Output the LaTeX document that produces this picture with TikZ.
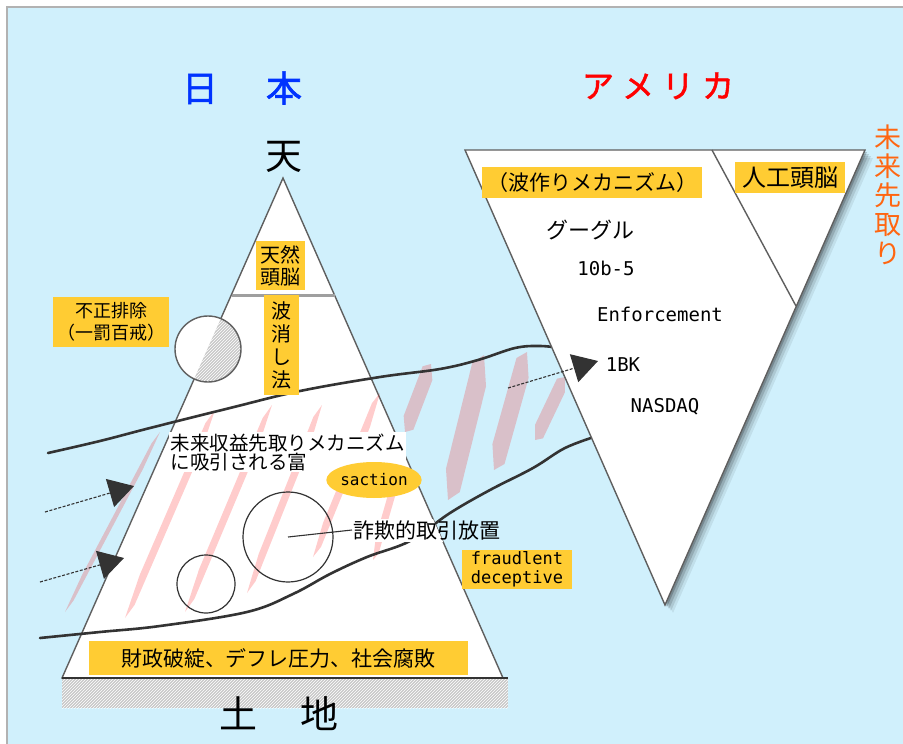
\documentclass[tikz,border=0pt]{standalone}
\usepackage{fontspec}
\setmainfont{Noto Sans CJK JP}
\newfontfamily\monofam{DejaVu Sans Mono}
\newfontfamily\jpbold[FakeBold=1.6]{Noto Sans CJK JP}
\usetikzlibrary{arrows.meta,patterns,shapes.geometric,calc}
\definecolor{bgblue}{RGB}{208,240,252}
\definecolor{boxy}{RGB}{255,204,51}
\definecolor{jpblue}{RGB}{0,51,255}
\definecolor{usred}{RGB}{255,0,0}
\definecolor{orng}{RGB}{255,102,17}
\definecolor{ink}{RGB}{51,51,51}
\definecolor{edgec}{RGB}{95,95,95}
\definecolor{hatchgray}{RGB}{200,200,200}
\newcommand\fsz[2]{\fontsize{#1}{#2}\selectfont}
\begin{document}
\begin{tikzpicture}[x=1pt,y=-1pt,
  ybox/.style={fill=boxy,inner sep=0pt,align=center,text=black},
  curveline/.style={draw=ink,line width=2.6pt,line cap=round,line join=round},
  stripefill/.style={fill=red,fill opacity=0.2},
  darrow/.style={draw=ink,line width=1.1pt,dash pattern=on 3pt off 1.6pt,-{Triangle[length=25pt,width=29pt,fill=ink]}},
  tri/.style={draw=edgec,line width=1.4pt,fill=white,line join=miter},
  hatchfill/.style={pattern=north east lines,pattern color=white}]
\useasboundingbox (0,0) rectangle (903,744);
% background
\fill[white] (0,0) rectangle (903,744);
\fill[bgblue] (7,7) rectangle (903,744);
\draw[gray!60,line width=1.5pt] (7,744) -- (7,7) -- (903,7);
% ground
\fill[hatchgray] (62,678) rectangle (508,708);
\fill[hatchfill] (62,678) rectangle (508,708);
% Japan triangle
\coordinate (jA) at (283,178);
\coordinate (jL) at (62,678);
\coordinate (jR) at (503,678);
\filldraw[tri] (jA) -- (jL) -- (jR) -- cycle;
\draw[ink,line width=2pt] (62,678) -- (508,678);
\draw[gray!75,line width=3pt] (231.5,295) -- (334.5,295);
% stripes (tapered)
\foreach \xa/\ya/\xb/\yb/\w in {65/612/160/432/2.2, 125/618/215/410/3.6, 185/612/272/405/3.6,
   247/593/322/405/3.6, 313/557/380/393/3.6, 373/560/404/452/3.6, 405/432/431/364/7,
   448/500/484/355/9.5, 494/470/527/352/8.5, 535/440/565/377/6.5}
  \fill[stripefill] (\xa,\ya)
     -- ($(\xa,\ya)!0.2!(\xb,\yb)!\w pt!90:(\xb,\yb)$)
     -- ($(\xa,\ya)!0.93!(\xb,\yb)!\w pt!90:(\xb,\yb)$)
     -- (\xb,\yb)
     -- ($(\xa,\ya)!0.8!(\xb,\yb)!\w pt!-90:(\xb,\yb)$)
     -- ($(\xa,\ya)!0.07!(\xb,\yb)!\w pt!-90:(\xb,\yb)$) -- cycle;
% curves
\draw[curveline] plot[smooth,tension=0.6] coordinates {(48,453) (100,441) (150,428) (230,408) (300,391) (380,377) (440,369) (478,360) (515,348) (540,346) (560,348)};
\draw[curveline] plot[smooth,tension=0.6] coordinates {(40,638) (100,632) (160,626) (247,612) (293,594) (330,574) (367,557) (410,541) (450,513) (490,490) (533,468) (565,448) (597,436)};
% white ground behind the fraud text, inside the triangle only
\begin{scope}
  \clip (jA) -- (jL) -- (jR) -- cycle;
  \fill[white] (351,519) rectangle (445,542);
\end{scope}
% hatched circle
\fill[white] (208,349) circle (33);
\begin{scope}
  \clip (jA) -- (jL) -- (jR) -- cycle;
  \fill[hatchgray] (208,349) circle (33);
  \fill[hatchfill] (208,349) circle (33);
\end{scope}
\draw[edgec,line width=1.4pt] (208,349) circle (33);
% America triangle
\coordinate (uL) at (465,150);
\coordinate (uR) at (865,150);
\coordinate (uB) at (665,605);
\foreach \s/\o in {8/0.07,6/0.1,4/0.14,2/0.2}
  \fill[black,opacity=\o,shift={(\s,\s)}] (465,150) -- (865,150) -- (665,605) -- cycle;
\filldraw[tri] (uL) -- (uR) -- (uB) -- cycle;
\draw[edgec,line width=1.4pt] (712,150) -- (796,306);
% circles
\node[circle,draw=ink,line width=1.2pt,minimum size=90pt,inner sep=0pt] (bigc) at (288,537) {};
\node[circle,draw=ink,line width=1.2pt,minimum size=58pt,inner sep=0pt] (smallc) at (206,584) {};
% labels Japan
\node[ybox,minimum width=49pt,minimum height=49pt,font=\fsz{20}{22}] (tennen) at (280.5,265.5) {天然\\頭脳};
\node[ybox,minimum width=35pt,minimum height=100pt,font=\fsz{20}{23}] (hasho) at (281.5,345) {波\\消\\し\\法};
\node[ybox,minimum width=116pt,minimum height=50pt,font=\fsz{18}{22}] (fusei) at (111,322) {不正排除\\（一罰百戒）};
\node[anchor=north west,fill=white,inner sep=1.5pt,align=left,font=\fsz{19.5}{19}] (mirai) at (169,432) {未来収益先取りメカニズム\\に吸引される富};
\node[ellipse,fill=boxy,minimum width=92pt,minimum height=36pt,inner sep=0pt,font=\monofam\fsz{16}{16}] (saction) at (374,480) {saction};
\node[anchor=west,inner sep=1pt,font=\fsz{21}{21}] (sagi) at (352,530) {詐欺的取引放置};
\draw[ink,line width=1.1pt] (bigc.center) -- (sagi.west);
\node[ybox,minimum width=110pt,minimum height=39pt,font=\monofam\fsz{17}{19}] (fraud) at (517,569.5) {fraudlent\\deceptive};
\node[ybox,minimum width=379pt,minimum height=34pt,font=\fsz{21}{21}] (zaisei) at (278.5,658) {財政破綻、デフレ圧力、社会腐敗};
\node[font=\fsz{37}{37}] (ten) at (284,157) {天};
\node[font=\fsz{38}{38}] (tochi) at (279,714) {土\hspace{44pt}地};
\node[font=\jpbold\fsz{36}{36},text=jpblue] (nihon) at (242,88) {日\hspace{48pt}本};
% labels America
\node[font=\jpbold\fsz{32}{32},text=usred] (america) at (658,86) {ア\hspace{8pt}メ\hspace{8pt}リ\hspace{8pt}カ};
\node[font=\fsz{27}{29},text=orng,align=center] (miraisaki) at (888,194.5) {未\\来\\先\\取\\り};
\node[ybox,minimum width=220pt,minimum height=31pt,font=\fsz{21}{21}] (nami) at (592,182.5) {（波作りメカニズム）};
\node[ybox,minimum width=110pt,minimum height=31pt,font=\fsz{24}{24}] (jinko) at (790,177.5) {人工頭脳};
\node[font=\fsz{22}{22}] (google) at (590,230) {グーグル};
\node[font=\monofam\fsz{19}{19}] (rule) at (606,268) {10b-5};
\node[font=\monofam\fsz{19}{19}] (enf) at (660,314) {Enforcement};
\node[font=\monofam\fsz{19}{19}] (bk) at (623,365) {1BK};
\node[font=\monofam\fsz{19}{19}] (nasdaq) at (665,407) {NASDAQ};
% arrows
\coordinate (a1s) at (45,512);
\coordinate (a1e) at (134,486);
\coordinate (a2s) at (40,582);
\coordinate (a2e) at (124,558);
\coordinate (a3s) at (508,388);
\coordinate (a3e) at (598,361);
\draw[darrow] (a1s) -- (a1e);
\draw[darrow] (a2s) -- (a2e);
\draw[darrow] (a3s) -- (a3e);
\end{tikzpicture}
\end{document}
